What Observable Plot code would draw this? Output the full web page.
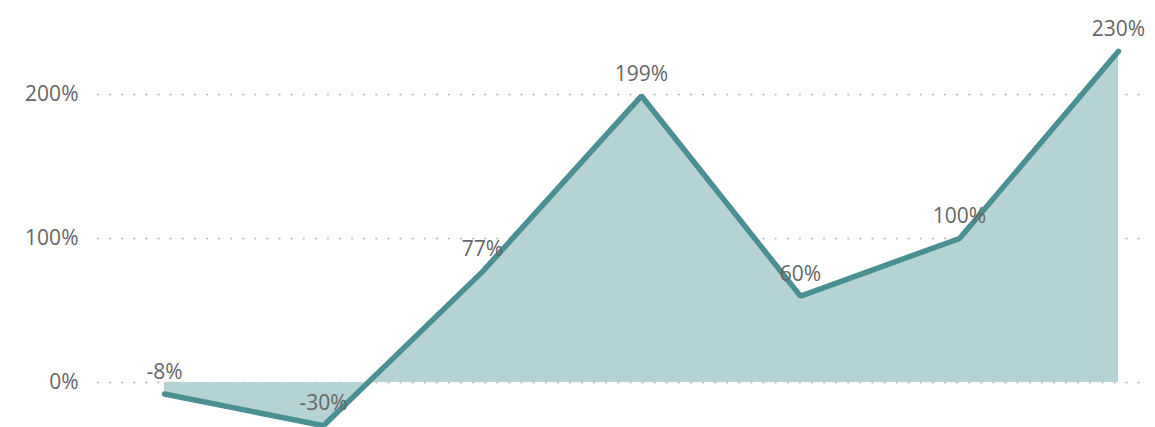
<!DOCTYPE html>
<html>
<head>
<meta charset="utf-8">
<script src="https://cdn.jsdelivr.net/npm/d3@7"></script>
<script src="https://cdn.jsdelivr.net/npm/@observablehq/plot@0.6"></script>
<style>
  html, body { margin: 0; padding: 0; background: #fff; }
  #chart svg { display: block; }
</style>
</head>
<body>
<div id="chart"></div>
<script>
const categories = ["P1", "P2", "P3", "P4", "P5", "P6", "P7"];
const values = [-8, -30, 77, 199, 60, 100, 230];
const yTicks = [0, 100, 200];

const data = categories.map((c, i) => ({ cat: c, value: values[i] }));

const chart = Plot.plot({
  width: 1155,
  height: 427,
  marginLeft: 98,
  marginRight: 5,
  marginTop: 0,
  marginBottom: 0,
  style: { fontFamily: "'Open Sans', sans-serif", fontSize: "21px", color: "#666", background: "#fff" },
  x: { type: "point", domain: categories, insetLeft: 64, insetRight: 30, padding: 0, axis: null },
  y: { domain: [-31.25, 265.28], axis: null, label: null },
  marks: [
    Plot.ruleY(yTicks, { stroke: "#bdbdbd", strokeWidth: 2.2, strokeDasharray: "0.1,12", strokeLinecap: "round" }),
    Plot.axisY(yTicks, { tickSize: 0, tickPadding: 20, tickFormat: d => d + "%", fontSize: 21, fill: "#666", label: null }),
    Plot.areaY(data, { x: "cat", y1: 0, y2: "value", fill: "#b5d3d4" }),
    Plot.lineY(data, { x: "cat", y: "value", stroke: "#4a8f91", strokeWidth: 5.5, strokeLinejoin: "miter", strokeLinecap: "round" }),
    Plot.text(data, { x: "cat", y: "value", text: d => d.value + "%", dy: -22, fill: "#666", fontSize: 21, textAnchor: "middle" })
  ]
});
document.getElementById("chart").appendChild(chart);
</script>
</body>
</html>
